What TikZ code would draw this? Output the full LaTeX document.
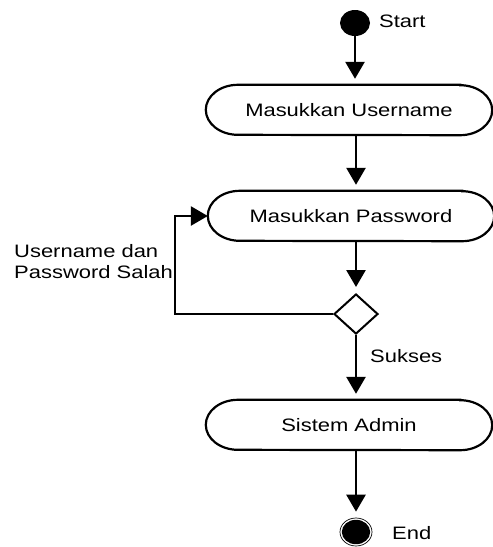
\documentclass[tikz,border=0pt]{standalone}
\usepackage{fontspec}
\setmainfont{Liberation Sans}[FakeStretch=1.22]
\usetikzlibrary{arrows.meta,shapes.geometric}
\newcommand{\stadiumoutline}[1]{%
  \draw[line width=2.2pt] ([xshift=-32pt]#1.north east) -- ([xshift=32pt]#1.north west)
    arc[start angle=-90,end angle=-270,x radius=32,y radius=25]
    -- ([xshift=-32pt]#1.south east)
    arc[start angle=90,end angle=-90,x radius=32,y radius=25] -- cycle;}
\begin{document}
\begin{tikzpicture}[x=1pt,y=-1pt,
  every node/.style={font=\fontsize{18}{21}\selectfont},
  act/.style={minimum width=286pt,minimum height=50pt,inner sep=0pt},
  flow/.style={line width=2.7pt,-{Triangle[width=19pt,length=17pt]},shorten >=6pt},
  lbl/.style={inner sep=0pt,anchor=west},
  ]
\useasboundingbox (0,0) rectangle (493,547);
\node[ellipse,fill,minimum width=30pt,minimum height=26pt,inner sep=0pt] (start) at (355,23) {};
\node[lbl] (starttxt) at (379,21) {Start};
\node[act] (b1) at (349,110) {Masukkan Username};
\node[act] (b2) at (351,216) {Masukkan Password};
\node[diamond,draw,line width=2pt,minimum width=44pt,minimum height=40pt,inner sep=0pt,aspect=1.1] (dec) at (356,314) {};
\node[act] (b3) at (349,425) {Sistem Admin};
\stadiumoutline{b1}
\stadiumoutline{b2}
\stadiumoutline{b3}
\node[ellipse,draw,line width=0.7pt,minimum width=32pt,minimum height=28pt,inner sep=0pt] (end) at (356,532) {};
\fill (end.center) ellipse [x radius=14.2, y radius=12.2];
\node[lbl] (endtxt) at (392,533) {End};
\node[lbl,align=left] (failtxt) at (14,262) {Username dan\\Password Salah};
\node[lbl] (oktxt) at (370,356) {Sukses};
\coordinate (lc) at (175,314);
\draw[flow] (start) -- (start |- b1.north);
\draw[flow] (b1.south -| dec) -- (b2.north -| dec);
\draw[flow] (b2.south -| dec) -- (dec.north);
\draw[flow,shorten >=0pt] (dec.west) -- (lc) |- (b2.west);
\draw[flow] (dec.south) -- (b3.north -| dec);
\draw[flow] (b3.south -| dec) -- (end.north);
\end{tikzpicture}
\end{document}
